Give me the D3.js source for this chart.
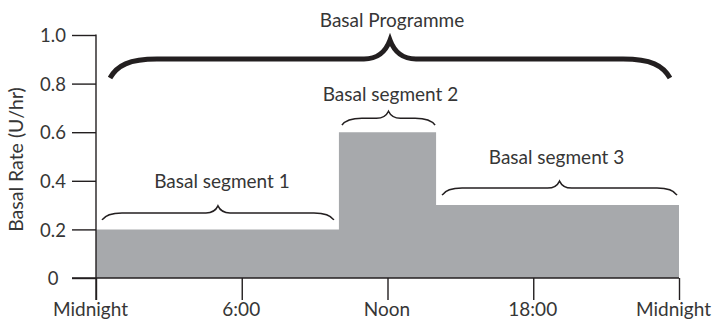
<!DOCTYPE html>
<html><head><meta charset="utf-8">
<script src="https://cdn.jsdelivr.net/npm/d3@7"></script>
<style>
html,body{margin:0;padding:0;background:#fff;}
svg{display:block;font-family:Lato, "Open Sans", sans-serif;}
</style></head>
<body><svg id="c" width="714" height="325"></svg>
<script>
// ---- data ----
const segStartHours = [0, 10, 14];
const segEndHours = [10, 14, 24];
const segRates = [0.2, 0.6, 0.3];
const segLabels = ["Basal segment 1", "Basal segment 2", "Basal segment 3"];
const xTickHours = [0, 6, 12, 18, 24];
const xTickLabels = ["Midnight", "6:00", "Noon", "18:00", "Midnight"];
const yTickValues = [0, 0.2, 0.4, 0.6, 0.8, 1.0];
const yTickLabels = ["0", "0.2", "0.4", "0.6", "0.8", "1.0"];
const yAxisTitle = "Basal Rate (U/hr)";
const programmeLabel = "Basal Programme";

// ---- layout ----
const ink = "#231f20";
const txt = "#363636";
const svg = d3.select("#c");
const x = d3.scaleLinear().domain([0, 24]).range([96, 679]);
const y = d3.scaleLinear().domain([0, 1]).range([278, 35]);

// step area
const pts = segStartHours.map((h, i) => ({h, r: segRates[i]}));
pts.push({h: segEndHours[segEndHours.length - 1], r: segRates[segRates.length - 1]});
svg.append("path")
  .datum(pts)
  .attr("fill", "#a7a9ac")
  .attr("d", d3.area().curve(d3.curveStepAfter).x(d => x(d.h)).y0(y(0)).y1(d => y(d.r)));

// y axis
const yAxis = svg.append("g").attr("transform", `translate(${x(0)},0)`)
  .call(d3.axisLeft(y).tickValues(yTickValues).tickSize(24).tickSizeOuter(0)
    .tickFormat((d, i) => yTickLabels[i]));
yAxis.select(".domain").remove();
yAxis.selectAll(".tick line").attr("stroke", ink).attr("stroke-width", 1.4);
yAxis.selectAll(".tick text").attr("x", -43).attr("text-anchor", "middle")
  .attr("font-size", 18.5).attr("fill", txt).attr("font-family", "Lato").attr("dy", "0.36em");
svg.append("line").attr("x1", x(0)).attr("x2", x(0)).attr("y1", y(1) - 0.5).attr("y2", y(0) + 22)
  .attr("stroke", ink).attr("stroke-width", 1.4);

// x axis
const xAxis = svg.append("g").attr("transform", `translate(0,${y(0)})`)
  .call(d3.axisBottom(x).tickValues(xTickHours).tickSize(22).tickSizeOuter(0)
    .tickFormat((d, i) => xTickLabels[i]));
xAxis.select(".domain").remove();
xAxis.selectAll(".tick line").attr("stroke", ink).attr("stroke-width", 1.4);
xAxis.selectAll(".tick text").attr("y", 38).attr("dy", 0)
  .attr("dx", (d, i) => (i === 0 || i === xTickHours.length - 1) ? -6 : -1)
  .attr("font-size", 19).attr("fill", txt).attr("font-family", "Lato");
svg.append("line").attr("x1", x(0) - 24).attr("x2", x(24)).attr("y1", y(0)).attr("y2", y(0))
  .attr("stroke", ink).attr("stroke-width", 1.4);

// y title
svg.append("text").attr("transform", `translate(23,${(y(0) + y(1)) / 2 + 3}) rotate(-90)`)
  .attr("text-anchor", "middle").attr("font-size", 19.5).attr("fill", txt).text(yAxisTitle);

// brace path
function brace(x0, x1, yEnd, h, r, t) {
  const yFlat = yEnd - h / 2, yTip = yEnd - h, xm = (x0 + x1) / 2;
  return `M${x0},${yEnd}` +
    `C${x0 + r * 0.15},${yFlat + (yEnd - yFlat) * 0.35} ${x0 + r * 0.4},${yFlat} ${x0 + r},${yFlat}` +
    `L${xm - t},${yFlat}` +
    `C${xm - t * 0.4},${yFlat} ${xm - t * 0.12},${yTip + (yFlat - yTip) * 0.45} ${xm},${yTip}` +
    `C${xm + t * 0.12},${yTip + (yFlat - yTip) * 0.45} ${xm + t * 0.4},${yFlat} ${xm + t},${yFlat}` +
    `L${x1 - r},${yFlat}` +
    `C${x1 - r * 0.4},${yFlat} ${x1 - r * 0.15},${yFlat + (yEnd - yFlat) * 0.35} ${x1},${yEnd}`;
}

// segment braces + labels
const padL = [6, 3, 6], padR = [5, 1, 2], lift = [9.5, 7, 10], gap = [18, 10, 17];
segLabels.forEach((lab, i) => {
  const x0 = x(segStartHours[i]) + padL[i], x1 = x(segEndHours[i]) - padR[i];
  const yEnd = y(segRates[i]) - lift[i];
  svg.append("path").attr("d", brace(x0, x1, yEnd, 14, 20, 12))
    .attr("fill", "none").attr("stroke", ink).attr("stroke-width", 1.5);
  svg.append("text").attr("x", (x0 + x1) / 2 + (i === 0 ? 4 : (i === 2 ? -3 : 2)))
    .attr("y", yEnd - 14 - gap[i])
    .attr("text-anchor", "middle").attr("font-size", 19).attr("fill", txt).text(lab);
});

// programme brace
const bx0 = x(0) + 14, bx1 = x(24) - 9, bEnd = y(1) + 43;
svg.append("path").attr("d", brace(bx0, bx1, bEnd, 38, 47, 26))
  .attr("fill", "none").attr("stroke", ink).attr("stroke-width", 5);
svg.append("text").attr("x", (bx0 + bx1) / 2 + 2).attr("y", bEnd - 38 - 13)
  .attr("text-anchor", "middle").attr("font-size", 19).attr("fill", txt).text(programmeLabel);
</script></body></html>
